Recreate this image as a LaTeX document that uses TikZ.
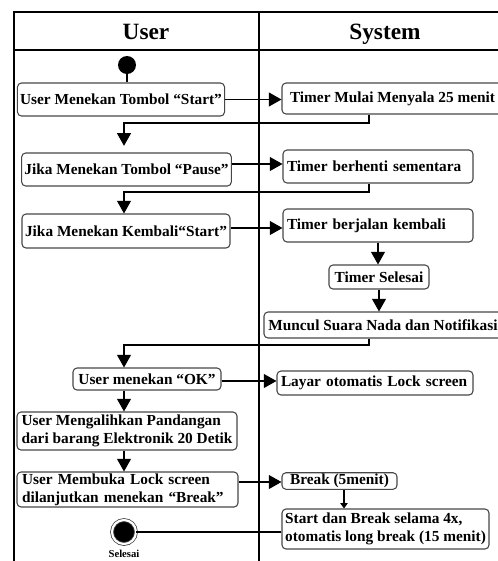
\documentclass[tikz,border=0pt]{standalone}
\usepackage{fontspec}
\setmainfont{Liberation Serif}
\usetikzlibrary{arrows.meta}
\usetikzlibrary{positioning}

\begin{document}
\begin{tikzpicture}
		[
		x=0.75pt,y=-0.75pt,
		font=\bfseries\fontsize{11.5}{13.5}\selectfont,
		>={Triangle[length=9.5pt,width=10.5pt]}
		]
		
		% Node styles: activity boxes and the two end points
		\tikzstyle{act}=[draw=gray!55!black,line width=0.8pt,rounded corners=3pt,inner ysep=1pt,inner xsep=2pt];
		\tikzstyle{act left}=[act,align=left];
		\tikzstyle{init}=[circle,fill=black,inner sep=0,minimum size=13.5pt];
		\tikzstyle{final}=[circle,fill=black,draw=gray!55!black,double=white,double distance=1.6pt,
			line width=0.6pt,inner sep=0,minimum size=18pt];
		
		% Line styles
		\tikzstyle{lane}=[line width=0.8pt];
		\tikzstyle{flow}=[->,line width=0.8pt];
		\tikzstyle{link}=[line width=0.8pt];
		
		\useasboundingbox(0,0)rectangle(498,561);
		\clip(0,0)rectangle(498,561);
		
		% Swimlanes
		\draw[lane](14,561)--(14,12)--(520,12);
		\draw[lane](14,50)--(520,50);
		\draw[lane](259,12)--(259,561);
		\node(hu)[anchor=base,font=\bfseries\fontsize{17.5}{19}\selectfont]at(146,39){User};
		\node(hs)[anchor=base,font=\bfseries\fontsize{17.5}{19}\selectfont]at(385,39){System};
		
		% User lane
		\node(start)[init]at(127,65){};
		\node(u1)[act,minimum width=154.5pt,minimum height=24.75pt]at(121,99.5){User Menekan Tombol “Start”};
		\node(u2)[act,minimum width=156.75pt,minimum height=24.75pt]at(126.5,169.5){Jika Menekan Tombol “Pause”};
		\node(u3)[act,minimum width=156pt,minimum height=25.5pt]at(126,231){Jika Menekan Kembali“Start”};
		\node(u4)[act,minimum width=111pt,minimum height=16.5pt]at(147,379){User menekan “OK”};
		\node(u5)[act left,minimum width=165pt,minimum height=28.5pt]at(127,431)
			{User Mengalihkan Pandangan\\dari barang Elektronik 20 Detik};
		\node(u6)[act left,text width=158.25pt,inner xsep=3.75pt,minimum height=26.25pt]at(127.5,489.5)
			{User Membuka Lock screen\\dilanjutkan menekan “Break”};
		\node(end)[final]at(124,532){};
		\node(lbl)[below=1pt of end,font=\bfseries\fontsize{8}{9}\selectfont]{Selesai};
		
		% System lane
		\node(s1)[act left,minimum width=165.75pt,minimum height=23.25pt]at(392.5,98.5){Timer Mulai Menyala 25 menit};
		\node(s2)[act left,text width=136.5pt,inner xsep=3pt,minimum height=24.75pt]at(378,166.5){\mbox{Timer berhenti sementara}};
		\node(s3)[act left,text width=136.5pt,inner xsep=3pt,minimum height=24.75pt]at(378,225.5){\mbox{Timer berjalan kembali}};
		\node(s4)[act,minimum width=75pt,minimum height=18pt]at(379,277){Timer Selesai};
		\node(s5)[act left,minimum width=178.5pt,minimum height=19.5pt]at(383,325){Muncul Suara Nada dan Notifikasi};
		\node(s6)[act left,text width=141pt,inner xsep=3pt,minimum height=18pt]at(375,383){\mbox{Layar otomatis Lock screen}};
		\node(s7)[act,minimum width=86.25pt,minimum height=12pt]at(339.5,481){Break (5menit)};
		\node(s8)[act left,minimum width=155.25pt,minimum height=30pt]at(385.5,529)
			{Start dan Break selama 4x,\\otomatis long break (15 menit)};
		
		% Bend points and levels of the connectors
		\coordinate(k1)at(369,123);
		\coordinate(k1e)at(124,123);
		\coordinate(k2)at(369,192);
		\coordinate(k2e)at(124,192);
		\coordinate(k3)at(369,345);
		\coordinate(k3e)at(124,345);
		\coordinate(y2)at(0,164);
		\coordinate(y3)at(0,228);
		\coordinate(y4)at(0,381);
		\coordinate(y5)at(0,482);
		\coordinate(lx)at(124,0);
		\coordinate(sx)at(344,0);
		
		% Connectors
		\draw[link](start)--(start.south|-u1.north);
		\draw[flow](u1.east)--(u1.east-|s1.west);
		\draw[flow,shorten >=5pt](s1.south-|k1)--(k1)--(k1e)--(u2.north-|k1e);
		\draw[flow](u2.east|-y2)--(s2.west|-y2);
		\draw[flow](s2.south-|k2)--(k2)--(k2e)--(u3.north-|k2e);
		\draw[flow](u3.east|-y3)--(s3.west|-y3);
		\draw[flow](s3.south)--(s3.south|-s4.north);
		\draw[flow](s4.south)--(s4.south|-s5.north);
		\draw[flow](s5.south-|k3)--(k3)--(k3e)--(u4.north-|k3e);
		\draw[flow](u4.east|-y4)--(s6.west|-y4);
		\draw[flow](u4.south-|lx)--(u5.north-|lx);
		\draw[flow](u5.south-|lx)--(u6.north-|lx);
		\draw[flow](u6.east|-y5)--(s7.west|-y5);
		\draw[line width=0.8pt,-{Triangle[length=4pt,width=5.5pt]}](s7.south-|sx)--(s8.north-|sx);
		\draw[link](s8.west|-end)--(end);
		\end{tikzpicture}
\end{document}
